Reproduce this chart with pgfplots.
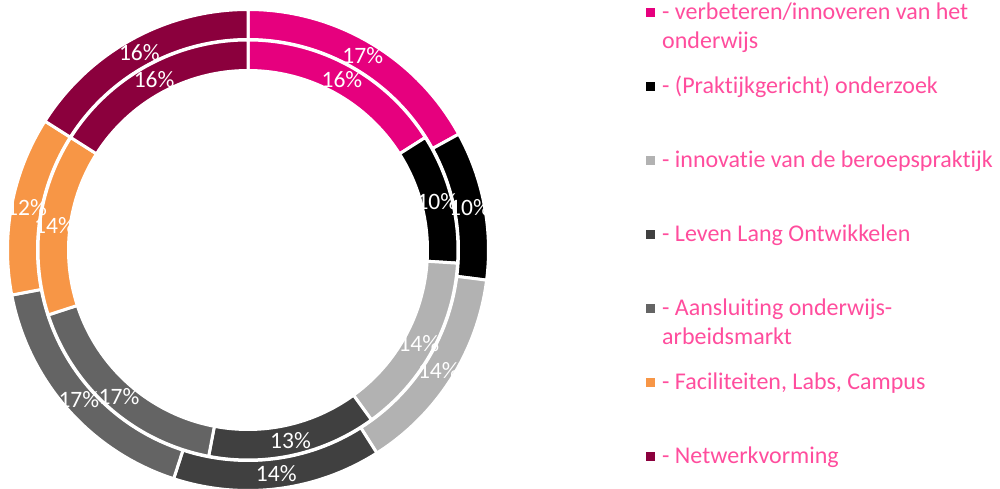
\documentclass[border=0pt]{standalone}
\usepackage{fontspec}
\setmainfont{Carlito}[Ligatures=NoCommon, RawFeature={-liga}]
\usepackage{pgfplots}
\usepackage{pgfplotstable}
\pgfplotsset{compat=1.18}

\definecolor{c0}{HTML}{E6007E}
\definecolor{c1}{HTML}{000000}
\definecolor{c2}{HTML}{B2B2B2}
\definecolor{c3}{HTML}{404040}
\definecolor{c4}{HTML}{646464}
\definecolor{c5}{HTML}{F79646}
\definecolor{c6}{HTML}{8B003D}
\definecolor{legtext}{HTML}{FF4D9D}

% share per category (%), outer and inner ring
\pgfplotstableread{
outer inner
17 16
10 10
14 14
14 13
17 17
12 14
16 16
}\piedata

% start/end angle of each slice, clockwise from 12 o'clock
\newcommand\ringangles[2]{%
  \gdef\cum{0}%
  \pgfplotsforeachungrouped \idx in {0,...,6}{%
    \pgfplotstablegetelem{\idx}{#1}\of\piedata
    \expandafter\xdef\csname #2v\idx\endcsname{\pgfplotsretval}%
    \pgfmathsetmacro\sa{90-3.6*\cum}%
    \pgfmathsetmacro\newcum{\cum+\pgfplotsretval}%
    \pgfmathsetmacro\ea{90-3.6*\newcum}%
    \expandafter\xdef\csname #2s\idx\endcsname{\sa}%
    \expandafter\xdef\csname #2e\idx\endcsname{\ea}%
    \xdef\cum{\newcum}%
  }%
}
\ringangles{outer}{o}
\ringangles{inner}{n}

% colour, inner r, outer r, start, end
\newcommand\sector[5]{%
  \filldraw[fill=#1, draw=white, line width=3pt]
    (axis cs:{248+#3*cos(#4)},{239+#3*sin(#4)})
    arc[start angle=#4, end angle=#5, radius=#3pt]
    -- (axis cs:{248+#2*cos(#5)},{239+#2*sin(#5)})
    arc[start angle=#5, end angle=#4, radius=#2pt] -- cycle;}

\tikzset{legtxt/.style={anchor=base west, inner sep=0pt, text=legtext,
  font=\fontsize{24}{29}\selectfont}}

\newcommand\legrow[3]{% index, y (px from top), text
  \fill[c#1] (axis cs:645.5,{489-4.5-#2}) rectangle (axis cs:654.5,{489+4.5-#2});
  \node[legtxt] at (axis cs:662,{489-#2-7}) {#3};}

\begin{document}
\begin{tikzpicture}
\begin{axis}[
  hide axis,
  x=1pt, y=1pt,
  xmin=0, xmax=1000, ymin=0, ymax=489,
  clip=false,
]
\pgfplotsinvokeforeach{0,...,6}{
  \sector{c#1}{210.5}{240.5}{\csname os#1\endcsname}{\csname oe#1\endcsname}
  \sector{c#1}{179.5}{210}{\csname ns#1\endcsname}{\csname ne#1\endcsname}
}
\pgfplotsinvokeforeach{0,...,6}{
  \node[text=white, font=\fontsize{23.5}{28}\selectfont]
    at (axis cs:{248+225.5*cos((\csname os#1\endcsname+\csname oe#1\endcsname)/2)},
                {239+225.5*sin((\csname os#1\endcsname+\csname oe#1\endcsname)/2)})
    {\csname ov#1\endcsname\%};
  \node[text=white, font=\fontsize{23.5}{28}\selectfont]
    at (axis cs:{248+195*cos((\csname ns#1\endcsname+\csname ne#1\endcsname)/2)},
                {239+195*sin((\csname ns#1\endcsname+\csname ne#1\endcsname)/2)})
    {\csname nv#1\endcsname\%};
}

\legrow{0}{13}{- verbeteren/innoveren van het}
\node[legtxt] at (axis cs:662,{489-13-7-29}) {onderwijs};
\legrow{1}{87}{- (Praktijkgericht) onderzoek}
\legrow{2}{161}{- innovatie van de beroepspraktijk}
\legrow{3}{235}{- Leven Lang Ontwikkelen}
\legrow{4}{309}{- Aansluiting onderwijs-}
\node[legtxt] at (axis cs:662,{489-309-7-29}) {arbeidsmarkt};
\legrow{5}{383}{- Faciliteiten, Labs, Campus}
\legrow{6}{457}{- Netwerkvorming}
\end{axis}
\pgfresetboundingbox
\path (current axis.south west) rectangle (current axis.north east);
\end{tikzpicture}
\end{document}
